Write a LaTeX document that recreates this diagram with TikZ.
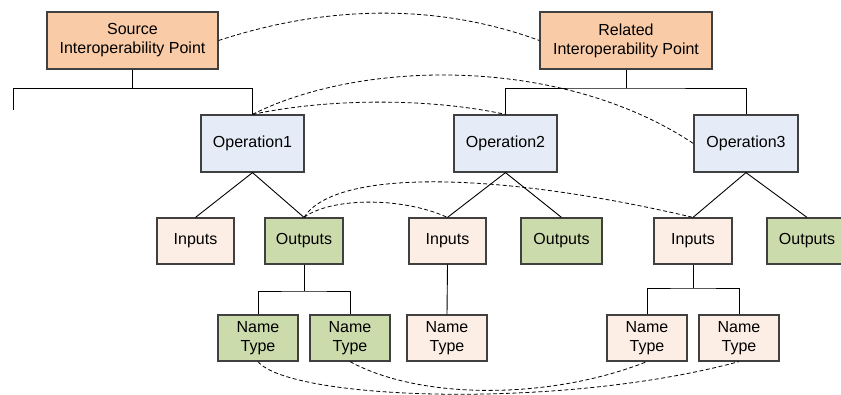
\documentclass[tikz,border=0pt]{standalone}
\usepackage{fontspec}
\setmainfont{Liberation Sans}
\definecolor{orangefill}{HTML}{F9CBA7}
\definecolor{bluefill}{HTML}{E6ECF7}
\definecolor{peachfill}{HTML}{FCEEE4}
\definecolor{greenfill}{HTML}{CCDBAB}
\definecolor{boxline}{HTML}{404040}
\tikzset{
  box/.style={draw=boxline, line width=1.2pt, rectangle, align=center, inner sep=0pt,
    font=\fontsize{16}{19}\selectfont, text=black},
  topbox/.style={box, fill=orangefill, minimum width=171pt, minimum height=57pt},
  opbox/.style={box, fill=bluefill, minimum width=103pt, minimum height=57pt},
  inbox/.style={box, fill=peachfill, minimum width=78pt, minimum height=46pt},
  outbox/.style={box, fill=greenfill, minimum width=78pt, minimum height=46pt},
  ntin/.style={box, fill=peachfill, minimum width=80pt, minimum height=46pt},
  ntout/.style={box, fill=greenfill, minimum width=80pt, minimum height=46pt},
  tree/.style={draw=black, line width=0.9pt},
  link/.style={draw=black, line width=0.8pt, dash pattern=on 4pt off 2.5pt},
}
\begin{document}
\begin{tikzpicture}[x=1pt, y=-1pt]
\useasboundingbox (0,0) rectangle (841,394);
\clip (0,0) rectangle (841,394);
\fill[white] (0,0) rectangle (841,394);

% level 1
\node[topbox] (src) at (132.5,40.5) {Source\\Interoperability Point};
\node[topbox, minimum width=172pt] (rel) at (626,40.5) {Related\\Interoperability Point};

% level 2
\node[opbox] (op1) at (252.5,143.5) {Operation1};
\node[opbox] (op2) at (505.5,143.5) {Operation2};
\node[opbox, minimum width=104pt] (op3) at (746,143.5) {Operation3};

% level 3
\node[inbox, minimum width=77pt] (in1) at (195.5,241) {Inputs};
\node[outbox] (out1) at (304,241) {Outputs};
\node[inbox, minimum width=77pt] (in2) at (447.5,241) {Inputs};
\node[outbox, minimum width=81pt] (out2) at (561.5,241) {Outputs};
\node[inbox] (in3) at (693,241) {Inputs};
\node[outbox, minimum width=80pt] (out3) at (807,241) {Outputs};

% level 4
\node[ntout] (nt1) at (258,338) {Name\\Type};
\node[ntout] (nt2) at (350,338) {Name\\Type};
\node[ntin] (nt3) at (447,338) {Name\\Type};
\node[ntin] (nt4) at (647,338) {Name\\Type};
\node[ntin] (nt5) at (739,338) {Name\\Type};

% tree connectors
\coordinate (sbar) at (132.5,88);
\coordinate (lf) at (13,110);
\draw[tree] (src.south) -- (sbar);
\draw[tree] (lf) -- (lf |- sbar) -| (op1.north);

\coordinate (rbar) at (626,88);
\draw[tree] (rel.south) -- (rbar);
\draw[tree] (op2.north) |- (rbar) -| (op3.north);

\draw[tree] (in1.north) -- (op1.south) -- (out1.north);
\draw[tree] (in2.north) -- (op2.south) -- (out2.north);
\draw[tree] (in3.north) -- (op3.south) -- (out3.north);

\coordinate (obar) at (304,291);
\draw[tree] (out1.south) -- (obar);
\draw[tree] (nt1.north) |- (obar) -| (nt2.north);

\draw[tree] (in2.south) -- (nt3.north);

\coordinate (ibar) at (693,288);
\draw[tree] (in3.south) -- (ibar);
\draw[tree] (nt4.north) |- (ibar) -| (nt5.north);

% dashed links
\draw[link] (src.east) .. controls (330,4) and (440,4) .. (rel.west);
\draw[link] (op1.north) .. controls (360,60) and (560,55) .. (op3.west);
\draw[link] (op1.north) .. controls (330,98) and (430,98) .. (op2.north);
\draw[link] (out1.north) .. controls (335,168) and (500,172) .. (in3.north);
\draw[link] (out1.north) .. controls (330,198) and (400,196) .. (in2.north);
\draw[link] (nt1.south) .. controls (290,400) and (560,410) .. (nt5.south);
\draw[link] (nt2.south) .. controls (420,400) and (550,400) .. (nt4.south);
\end{tikzpicture}
\end{document}
